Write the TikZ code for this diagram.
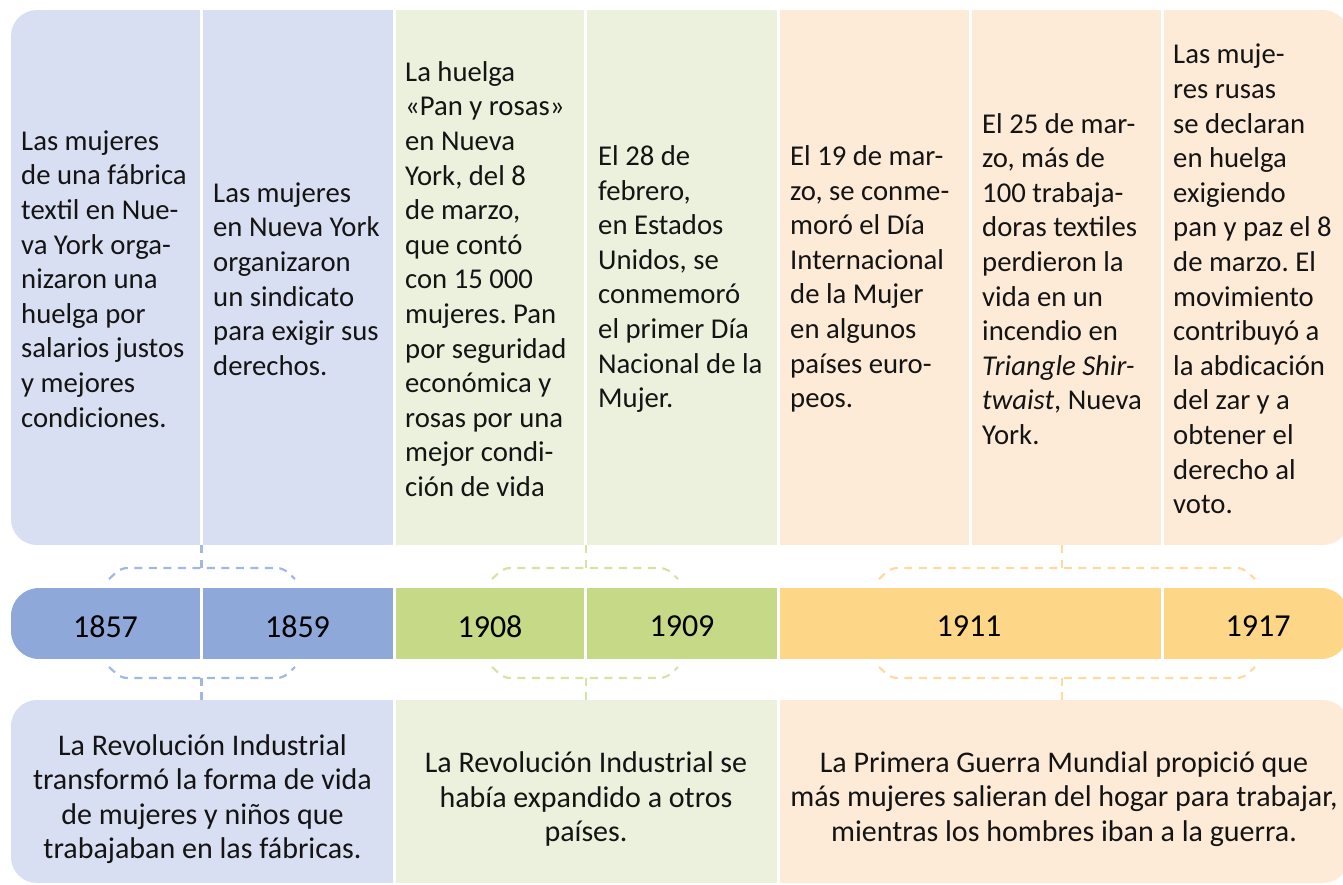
\documentclass[tikz,border=0pt]{standalone}
\usepackage{fontspec}
\setmainfont{Carlito}
\frenchspacing
\definecolor{blueL}{HTML}{D9DFF2}
\definecolor{blueB}{HTML}{8EA9D9}
\definecolor{blueD}{HTML}{A2B7E2}
\definecolor{greenL}{HTML}{EBF1DD}
\definecolor{greenB}{HTML}{C5D987}
\definecolor{greenD}{HTML}{D5E4A6}
\definecolor{orangeL}{HTML}{FDEBD7}
\definecolor{orangeB}{HTML}{FED687}
\definecolor{orangeD}{HTML}{FED9A2}
\definecolor{ink}{HTML}{141414}
\tikzset{
  toptext/.style={anchor=west, align=left, inner sep=0pt, text=ink, font=\fontsize{28.7}{34.6}\selectfont},
  yeartext/.style={inner sep=0pt, text=black, font=\fontsize{32}{38}\selectfont},
  bottext/.style={align=center, inner sep=0pt, text=ink, font=\fontsize{30}{34.5}\selectfont},
  bracket/.style={dash pattern=on 8pt off 6.5pt, line width=2.2pt},
  divider/.style={white, line width=3pt},
}
\begin{document}
\begin{tikzpicture}[x=1pt,y=-1pt]
\useasboundingbox (0,0) rectangle (1343,884);
\clip (0,0) rectangle (1343,884);
% top panel
\begin{scope}
\clip[rounded corners=26pt] (11,10) rectangle (1349,545);
\fill[blueL] (11,10) rectangle (394,545);
\fill[greenL] (394,10) rectangle (778,545);
\fill[orangeL] (778,10) rectangle (1349,545);
\end{scope}
\foreach \x in {201.5,394,585.5,778,970,1162} \draw[divider] (\x,8) -- (\x,547);
% bar
\begin{scope}
\clip[rounded corners=28pt] (11,588) rectangle (1349,659);
\fill[blueB] (11,588) rectangle (394,659);
\fill[greenB] (394,588) rectangle (778,659);
\fill[orangeB] (778,588) rectangle (1349,659);
\end{scope}
\foreach \x in {201.5,394,585.5,778,1162} \draw[divider] (\x,586) -- (\x,661);
% bottom panel
\begin{scope}
\clip[rounded corners=26pt] (11,700) rectangle (1349,883);
\fill[blueL] (11,700) rectangle (394,883);
\fill[greenL] (394,700) rectangle (778,883);
\fill[orangeL] (778,700) rectangle (1349,883);
\end{scope}
\foreach \x in {394,778} \draw[divider] (\x,698) -- (\x,885);

% brackets
\coordinate (bT) at (201.5,545); \coordinate (bTj) at (201.5,568);
\coordinate (bB) at (201.5,700); \coordinate (bBj) at (201.5,678);
\coordinate (gT) at (586,545); \coordinate (gTj) at (586,568);
\coordinate (gB) at (586,700); \coordinate (gBj) at (586,678);
\coordinate (oT) at (1062,545); \coordinate (oTj) at (1062,568);
\coordinate (oB) at (1062,700); \coordinate (oBj) at (1062,678);
\draw[bracket, blueD] (bT) -- (bTj);
\draw[bracket, blueD] (bB) -- (bBj);
\draw[bracket, blueD, rounded corners=6pt] (109,579) -- (121,568) -- (283,568) -- (295,579);
\draw[bracket, blueD, rounded corners=6pt] (109,667) -- (121,678) -- (283,678) -- (295,667);
\draw[bracket, greenD] (gT) -- (gTj);
\draw[bracket, greenD] (gB) -- (gBj);
\draw[bracket, greenD, rounded corners=6pt] (492,579) -- (504,568) -- (666,568) -- (678,579);
\draw[bracket, greenD, rounded corners=6pt] (492,667) -- (504,678) -- (666,678) -- (678,667);
\draw[bracket, orangeD] (oT) -- (oTj);
\draw[bracket, orangeD] (oB) -- (oBj);
\draw[bracket, orangeD, rounded corners=6pt] (879,579) -- (891,568) -- (1243,568) -- (1255,579);
\draw[bracket, orangeD, rounded corners=6pt] (879,667) -- (891,678) -- (1243,678) -- (1255,667);

% top texts
\node[toptext] (t1) at (21,279) {Las mujeres\\de una fábrica\\textil en Nue-\\va York orga-\\nizaron una\\huelga por\\salarios justos\\y mejores\\condiciones.};
\node[toptext] (t2) at (213,279) {Las mujeres\\en Nueva York\\organizaron\\un sindicato\\para exigir sus\\derechos.};
\node[toptext] (t3) at (405,279) {La huelga\\«Pan y rosas»\\en Nueva\\York, del 8\\de marzo,\\que contó\\con 15 000\\mujeres. Pan\\por seguridad\\económica y\\rosas por una\\mejor condi-\\ción de vida};
\node[toptext] (t4) at (598,279) {El 28 de\\febrero,\\en Estados\\Unidos, se\\conmemoró\\el primer Día\\Nacional de la\\Mujer.};
\node[toptext] (t5) at (790,279) {El 19 de mar-\\zo, se conme-\\moró el Día\\Internacional\\de la Mujer\\en algunos\\países euro-\\peos.};
\node[toptext] (t6) at (982,279) {El 25 de mar-\\zo, más de\\100 trabaja-\\doras textiles\\perdieron la\\vida en un\\incendio en\\\textit{Triangle Shir-}\\\textit{twaist}, Nueva\\York.};
\node[toptext] (t7) at (1173,279) {Las muje-\\res rusas\\se declaran\\en huelga\\exigiendo\\pan y paz el 8\\de marzo. El\\movimiento\\contribuyó a\\la abdicación\\del zar y a\\obtener el\\derecho al\\voto.};

% years
\node[yeartext] (y1857) at (105.5,626.5) {1857};
\node[yeartext] (y1859) at (297.5,626.5) {1859};
\node[yeartext] (y1908) at (490,626.5) {1908};
\node[yeartext] (y1909) at (682,626.5) {1909};
\node[yeartext] (y1911) at (969,626.5) {1911};
\node[yeartext] (y1917) at (1258,626.5) {1917};

% bottom texts
\node[bottext] (b1) at (202.5,799) {La Revolución Industrial\\transformó la forma de vida\\de mujeres y niños que\\trabajaban en las fábricas.};
\node[bottext] (b2) at (586,799) {La Revolución Industrial se\\había expandido a otros\\países.};
\node[bottext] (b3) at (1064,799) {La Primera Guerra Mundial propició que\\más mujeres salieran del hogar para trabajar,\\mientras los hombres iban a la guerra.};
\end{tikzpicture}
\end{document}
